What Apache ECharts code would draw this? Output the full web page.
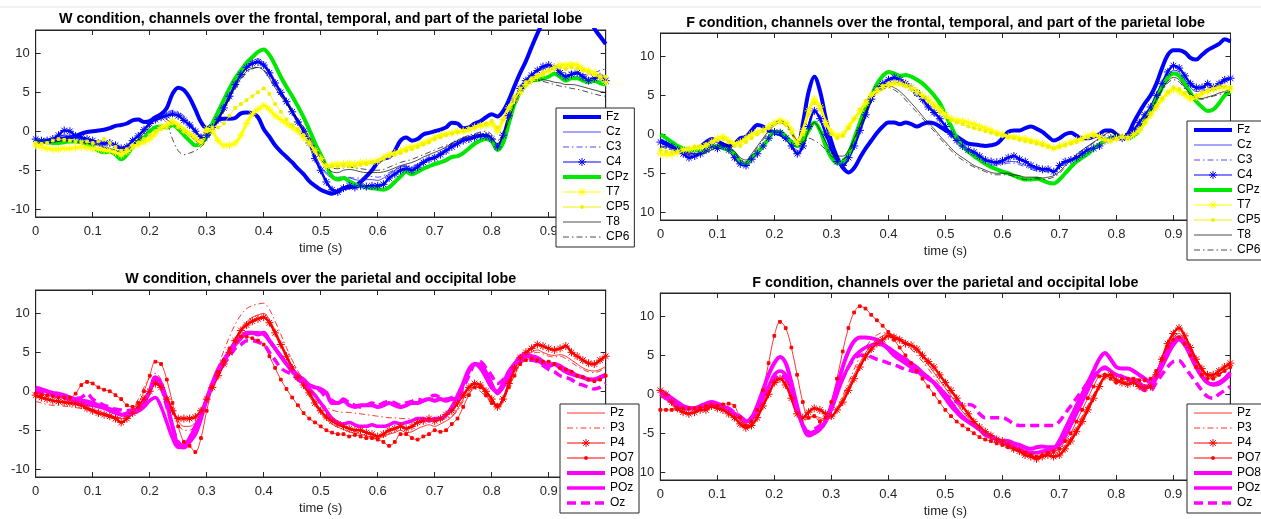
<!DOCTYPE html>
<html>
<head>
<meta charset="utf-8">
<title>EEG channels, W and F conditions</title>
<script src="https://cdn.jsdelivr.net/npm/echarts@6/dist/echarts.min.js"></script>
<style>
html, body { margin: 0; padding: 0; background: #fff; }
#chart { width: 1261px; height: 519px; }
</style>
</head>
<body>
<div id="chart"></div>
<script>
// sample times (s), one every 10 ms
const time = [];
for (let i = 0; i <= 100; i++) time.push(i / 100);

const frontalChannels = ['Fz', 'Cz', 'C3', 'C4', 'CPz', 'T7', 'CP5', 'T8', 'CP6'];
const occipitalChannels = ['Pz', 'P3', 'P4', 'PO7', 'PO8', 'POz', 'Oz'];

// ---- W condition, frontal / temporal ----
const wFz = [-1.3,-1.3,-1.2,-1.1,-1.0,-0.9,-0.8,-0.6,-0.3,-0.1,
  0.0,0.1,0.2,0.4,0.7,0.8,1.0,1.4,1.5,1.2,
  1.3,1.8,2.2,3.0,4.8,5.6,5.3,4.3,2.8,1.2,
  0.4,0.8,1.5,1.6,1.6,1.7,2.3,2.4,2.3,1.8,
  0.3,-0.7,-1.8,-2.6,-3.3,-4.0,-4.8,-5.5,-6.4,-7.0,
  -7.5,-7.8,-8.0,-7.7,-7.3,-7.2,-7.0,-6.5,-5.8,-5.0,
  -4.0,-3.5,-3.3,-2.5,-1.2,-0.8,-1.2,-1.0,-0.4,-0.2,
  0.0,0.2,0.5,1.1,1.0,0.4,0.5,1.0,1.3,1.8,
  2.2,1.9,2.6,4.0,5.8,7.5,9.0,10.8,12.5,14.0,
  15.0,16.0,16.5,17.0,17.0,16.5,16.0,15.0,13.2,12.2,
  11.2];
const wCz = [-1.2,-1.3,-1.4,-1.2,-0.8,-0.5,-0.5,-0.8,-1.0,-1.1,
  -1.3,-1.5,-1.5,-1.6,-1.8,-2.0,-1.8,-1.2,-0.5,0.3,
  1.0,1.6,2.0,2.3,2.5,2.3,1.8,1.0,0.2,-0.6,
  -0.3,0.6,1.8,3.2,4.7,6.2,7.5,8.5,9.0,9.3,
  8.8,7.8,6.5,5.2,4.0,2.8,1.5,0.2,-1.2,-3.0,
  -4.5,-5.5,-6.0,-6.2,-6.0,-6.0,-6.2,-6.3,-6.2,-6.2,
  -6.3,-6.0,-5.5,-5.0,-4.6,-4.5,-4.7,-4.3,-3.8,-3.5,
  -3.2,-2.8,-2.3,-1.8,-1.4,-1.0,-0.8,-0.6,-0.4,-0.4,
  -0.8,-1.8,-0.5,2.0,4.0,5.5,6.5,7.2,7.7,8.0,
  8.2,8.0,7.5,7.2,7.3,7.3,7.0,6.8,7.0,7.2,
  7.0];
const wC3 = [-1.3,-1.4,-1.3,-1.0,-0.7,-0.5,-0.6,-0.9,-1.1,-1.2,
  -1.4,-1.5,-1.4,-1.6,-1.9,-2.1,-1.9,-1.3,-0.6,0.2,
  1.0,1.5,2.0,2.4,2.7,2.5,2.0,1.2,0.3,-0.5,
  -0.4,0.5,1.6,3.0,4.5,6.0,7.3,8.3,8.8,9.0,
  8.6,7.6,6.3,5.0,3.8,2.6,1.4,0.1,-1.3,-3.0,
  -4.5,-5.3,-5.8,-5.9,-5.8,-5.9,-6.0,-6.0,-5.9,-5.8,
  -5.9,-5.7,-5.3,-4.9,-4.5,-4.4,-4.5,-4.2,-3.7,-3.4,
  -3.1,-2.7,-2.2,-1.7,-1.3,-0.9,-0.7,-0.5,-0.3,-0.3,
  -0.7,-1.6,-0.3,2.2,4.2,5.7,6.7,7.3,7.8,8.1,
  8.3,8.2,7.8,7.5,7.6,7.6,7.3,7.2,7.5,7.8,
  8.0];
const wC4 = [-1.0,-1.2,-1.2,-1.0,-0.5,0.1,0.0,-0.6,-0.8,-1.0,
  -1.2,-1.5,-1.6,-1.5,-1.8,-2.2,-2.0,-1.2,-0.6,0.2,
  1.0,1.5,1.8,2.0,2.2,2.0,1.4,0.8,0.0,-0.8,
  -0.5,0.5,1.5,3.0,4.5,6.0,7.3,8.2,8.7,8.9,
  8.5,7.5,6.2,5.0,3.8,2.5,1.2,0.0,-1.5,-3.5,
  -5.0,-6.5,-7.5,-7.8,-7.3,-7.0,-7.2,-7.0,-7.1,-7.0,
  -7.0,-6.8,-6.0,-5.5,-5.0,-4.8,-5.0,-4.6,-4.0,-3.6,
  -3.4,-3.0,-2.5,-2.0,-1.6,-1.2,-1.0,-0.8,-0.6,-0.6,
  -1.0,-2.0,-0.5,2.0,4.0,5.5,6.5,7.2,7.8,8.3,
  8.5,8.2,7.5,7.0,7.3,7.5,7.0,6.5,6.8,7.0,
  6.5];
const wCPz = [-1.2,-1.3,-1.4,-1.5,-1.5,-1.4,-1.3,-1.3,-1.4,-1.6,
  -2.0,-2.5,-2.7,-2.6,-3.0,-3.6,-3.0,-2.0,-1.3,-0.8,
  0.0,0.5,0.6,0.5,0.8,0.3,-0.5,-1.2,-1.8,-1.6,
  -0.5,1.0,2.5,4.0,5.5,6.8,7.8,8.8,9.5,10.2,
  10.5,9.8,8.5,7.0,5.7,4.5,3.2,1.8,0.2,-1.5,
  -3.0,-4.5,-5.8,-6.2,-6.0,-6.4,-6.8,-7.0,-7.2,-7.3,
  -7.4,-7.5,-7.2,-6.5,-5.8,-5.2,-5.5,-5.2,-4.8,-4.5,
  -4.2,-4.0,-3.7,-3.3,-3.2,-2.8,-2.2,-1.6,-1.2,-1.0,
  -1.3,-2.4,-1.5,1.0,3.5,5.0,6.0,6.5,6.6,6.8,
  7.0,7.4,7.0,6.5,6.8,6.8,6.5,6.3,6.5,6.2,
  6.0];
const wT7 = [-1.8,-2.0,-2.2,-2.3,-2.3,-2.2,-2.2,-2.1,-2.0,-2.1,
  -2.2,-2.3,-2.4,-2.5,-2.7,-3.0,-2.6,-2.0,-1.7,-1.4,
  -1.0,-0.3,0.5,0.8,1.3,0.8,0.2,-0.3,-0.8,-1.5,
  0.3,0.0,-1.2,-1.8,-1.8,-1.5,-0.5,1.0,2.2,2.8,
  3.3,2.8,2.0,1.5,1.0,0.5,0.0,-0.8,-1.5,-2.5,
  -3.5,-4.5,-4.3,-4.2,-4.2,-4.1,-4.2,-4.0,-4.0,-3.9,
  -3.8,-3.4,-3.0,-2.8,-2.5,-2.2,-2.0,-1.8,-1.5,-1.2,
  -0.8,-0.5,-0.3,-0.2,0.0,0.0,0.2,0.5,0.7,0.8,
  1.0,0.0,1.5,3.0,4.0,5.0,6.0,6.5,7.0,7.4,
  7.8,8.2,8.5,8.5,8.6,8.5,8.0,7.8,7.5,7.0,
  6.3];
const wCP5 = [-1.5,-1.6,-1.5,-1.2,-1.0,-1.1,-1.2,-1.3,-1.4,-1.3,
  -1.5,-1.3,-1.0,-1.5,-2.0,-2.5,-2.3,-1.8,-1.5,-1.0,
  -0.5,0.0,0.3,0.5,1.0,0.5,0.0,-0.5,-1.0,-1.2,
  0.0,0.5,0.5,1.0,2.0,3.0,3.5,4.0,4.5,5.0,
  5.5,4.8,3.5,2.5,1.5,0.8,0.3,-0.5,-1.5,-2.5,
  -3.5,-4.3,-4.5,-4.5,-4.4,-4.5,-4.5,-4.3,-4.2,-4.0,
  -3.8,-3.5,-3.2,-3.0,-2.8,-2.5,-2.3,-2.0,-1.7,-1.4,
  -1.0,-0.8,-0.5,-0.3,-0.1,0.1,0.3,0.5,0.8,1.0,
  1.3,0.5,1.5,3.0,4.5,5.5,6.3,6.8,7.2,7.5,
  7.8,8.0,8.2,8.0,8.2,8.0,7.8,7.5,7.2,7.0,
  7.0];
const wT8 = [-1.2,-1.3,-1.4,-1.4,-1.3,-1.2,-1.2,-1.3,-1.4,-1.5,
  -1.6,-1.8,-2.0,-2.2,-2.4,-2.6,-2.4,-1.8,-1.0,-0.2,
  0.8,1.5,1.9,1.5,1.0,0.5,0.0,-0.5,-1.2,-1.7,
  -1.0,0.3,1.5,2.8,4.2,5.6,6.8,7.7,8.1,8.2,
  7.8,6.8,5.6,4.5,3.5,2.5,1.5,0.5,-0.8,-2.2,
  -3.5,-4.5,-5.2,-5.3,-5.0,-4.9,-5.0,-5.2,-5.3,-5.3,
  -5.3,-5.2,-5.0,-4.7,-4.4,-4.2,-4.0,-3.7,-3.3,-3.0,
  -2.7,-2.4,-2.0,-1.6,-1.2,-0.9,-0.7,-0.5,-0.4,-0.4,
  -0.8,-1.6,-0.5,1.5,3.5,5.0,6.0,6.5,6.6,6.6,
  6.5,6.3,6.2,6.0,6.0,5.9,5.7,5.5,5.3,5.1,
  5.0];
const wCP6 = [-1.4,-1.5,-1.5,-1.4,-1.3,-1.2,-1.3,-1.4,-1.5,-1.6,
  -1.7,-1.9,-2.1,-2.3,-2.5,-2.7,-2.5,-1.9,-1.2,-0.4,
  0.5,1.2,1.6,1.0,-1.0,-2.5,-3.0,-2.8,-2.5,-2.0,
  -1.2,0.0,1.2,2.5,4.0,5.4,6.6,7.5,8.0,8.2,
  7.9,7.0,5.8,4.6,3.6,2.6,1.6,0.6,-0.7,-2.0,
  -3.2,-4.2,-4.7,-4.8,-4.7,-4.6,-4.7,-4.8,-4.9,-5.0,
  -5.0,-4.9,-4.6,-4.3,-4.0,-3.8,-3.6,-3.3,-3.0,-2.7,
  -2.4,-2.1,-1.8,-1.5,-1.1,-0.8,-0.5,-0.3,-0.1,0.0,
  -0.4,-1.2,-0.3,1.5,3.5,5.0,6.0,6.4,6.5,6.4,
  6.2,6.0,5.8,5.7,5.5,5.4,5.2,5.0,4.8,4.6,
  4.5];

// ---- F condition, frontal / temporal ----
const fFz = [-0.8,-1.2,-1.5,-1.8,-2.0,-2.1,-2.0,-1.6,-1.0,-0.6,
  -0.9,-1.3,-1.5,-1.2,-0.5,-0.3,0.5,1.2,1.0,0.5,
  0.2,0.0,-0.5,-1.0,-1.5,1.5,5.5,7.4,5.5,2.0,
  -1.0,-3.0,-4.3,-4.9,-4.3,-3.0,-1.8,-0.8,0.2,1.0,
  1.5,1.5,1.3,1.5,1.3,1.0,1.3,1.5,1.4,1.0,
  0.5,0.2,-0.3,-0.8,-1.2,-1.3,-1.4,-1.5,-1.4,-1.2,
  -0.5,0.3,0.5,0.5,0.8,1.0,0.7,0.3,-0.3,-0.8,
  -0.5,0.0,0.2,-0.2,-0.5,-0.5,-0.3,0.0,0.5,0.5,
  0.0,-0.5,0.0,1.5,2.8,4.0,5.0,6.5,8.5,10.2,
  10.8,10.8,10.5,9.8,9.6,10.2,10.8,11.2,11.6,12.2,
  11.9];
const fCz = [-0.8,-1.2,-1.5,-1.8,-2.2,-2.5,-2.5,-2.3,-1.8,-1.3,
  -1.5,-1.4,-1.8,-2.7,-3.5,-3.7,-3.0,-2.3,-1.3,-0.3,
  0.4,0.3,-0.4,-1.3,-2.2,-1.2,1.2,3.0,2.0,0.0,
  -1.8,-3.2,-3.8,-2.8,-1.2,0.8,2.8,4.6,5.8,6.5,
  7.0,7.2,7.0,6.6,6.0,5.3,4.6,3.8,3.0,2.0,
  1.0,0.0,-0.8,-1.5,-2.0,-2.5,-3.0,-3.4,-3.6,-3.8,
  -3.7,-3.5,-3.5,-3.7,-4.0,-4.3,-4.5,-4.6,-4.6,-4.7,
  -4.2,-3.7,-3.3,-3.0,-2.5,-2.0,-1.7,-1.3,-0.8,-0.5,
  -0.3,-0.5,-0.3,0.5,1.5,2.5,3.5,5.0,6.3,7.5,
  8.2,8.0,7.0,6.0,5.5,5.5,5.8,5.8,6.2,6.7,
  7.0];
const fC3 = [-0.9,-1.2,-1.6,-1.9,-2.3,-2.7,-2.6,-2.3,-1.9,-1.4,
  -1.6,-1.5,-1.9,-2.8,-3.6,-3.8,-3.0,-2.3,-1.4,-0.4,
  0.3,0.3,-0.3,-1.2,-2.0,-1.0,1.5,3.2,2.2,0.2,
  -1.6,-3.0,-3.7,-2.8,-1.2,0.8,2.8,4.5,5.6,6.3,
  6.8,7.0,6.8,6.3,5.6,4.8,4.0,3.2,2.4,1.5,
  0.5,-0.4,-1.2,-1.8,-2.4,-2.9,-3.4,-3.7,-3.9,-4.0,
  -3.9,-3.7,-3.7,-3.9,-4.2,-4.5,-4.7,-4.8,-4.8,-4.9,
  -4.3,-3.8,-3.4,-3.0,-2.5,-2.0,-1.6,-1.2,-0.7,-0.4,
  -0.3,-0.4,-0.2,0.5,1.5,2.5,3.6,5.0,6.3,7.5,
  8.0,7.8,7.0,6.2,5.8,5.8,6.0,6.2,6.6,7.0,
  7.3];
const fC4 = [-1.0,-1.3,-1.6,-2.0,-2.5,-3.0,-2.8,-2.5,-2.0,-1.5,
  -1.8,-1.5,-2.0,-3.0,-3.8,-4.0,-3.2,-2.5,-1.5,-0.5,
  0.3,0.2,-0.5,-1.5,-2.5,-1.5,1.0,3.0,2.0,0.0,
  -2.0,-3.5,-4.0,-3.0,-1.5,0.5,2.5,4.5,5.8,6.5,
  7.0,7.3,7.0,6.5,6.0,5.3,4.5,3.5,2.8,2.0,
  1.0,0.0,-0.8,-1.5,-2.0,-2.3,-2.8,-3.3,-3.5,-3.6,
  -3.4,-3.0,-2.8,-3.2,-3.5,-4.0,-4.3,-4.5,-4.5,-4.8,
  -4.0,-3.5,-3.3,-3.0,-2.5,-2.0,-1.8,-1.5,-0.8,-0.5,
  -0.3,-0.5,-0.2,0.5,1.5,2.5,3.5,5.0,6.5,8.0,
  8.8,8.5,7.5,6.5,6.0,6.0,6.5,6.0,6.5,7.0,
  7.2];
const fCPz = [0.0,-0.5,-1.0,-1.5,-1.8,-2.0,-2.0,-2.2,-2.0,-1.5,
  -1.5,-1.8,-2.0,-2.5,-3.5,-3.8,-3.0,-2.3,-1.5,-0.5,
  0.3,0.3,-0.3,-1.0,-1.5,-0.8,0.5,1.5,0.5,-1.5,
  -3.0,-3.7,-3.5,-2.5,-0.5,1.5,3.5,5.0,6.5,7.5,
  8.0,7.8,7.5,7.6,7.4,7.0,6.5,5.8,5.0,4.0,
  2.5,1.0,-0.5,-1.5,-2.2,-2.8,-3.3,-3.8,-4.2,-4.5,
  -4.8,-5.0,-5.3,-5.6,-5.8,-5.8,-5.7,-5.9,-6.2,-6.3,
  -5.8,-5.0,-4.2,-3.5,-3.0,-2.5,-1.8,-1.3,-0.8,-0.5,
  -0.3,-0.3,-0.5,-0.2,0.5,1.8,3.0,4.5,6.0,7.3,
  7.8,7.5,6.5,5.3,4.2,3.5,3.0,3.2,4.0,5.0,
  5.5];
const fT7 = [-2.5,-2.6,-2.6,-2.3,-2.0,-1.9,-1.8,-1.7,-1.5,-1.0,
  -0.5,-0.3,-0.8,-1.2,-1.0,-0.5,0.0,0.3,0.5,1.0,
  1.5,1.8,1.5,0.5,-1.0,0.5,3.0,4.5,3.5,1.5,
  0.3,-0.2,0.0,1.0,2.0,3.0,4.0,5.0,5.5,6.0,
  6.3,6.5,6.5,6.3,6.0,5.5,5.0,4.5,3.8,3.2,
  2.5,2.0,1.8,1.7,1.5,1.3,1.0,0.8,0.5,0.2,
  0.0,-0.3,-0.3,-0.5,-0.6,-0.8,-1.0,-1.2,-1.5,-1.8,
  -1.5,-1.3,-1.0,-0.8,-0.5,-0.2,0.0,-0.3,-0.8,-0.8,
  -0.5,-0.3,-0.5,0.0,0.5,1.5,2.5,3.5,4.5,5.3,
  5.8,5.5,5.0,4.5,4.8,5.2,5.5,5.8,6.0,6.0,
  5.8];
const fCP5 = [-2.0,-2.2,-2.3,-2.2,-2.0,-1.8,-1.6,-1.5,-1.3,-1.0,
  -0.8,-0.6,-1.0,-1.5,-1.5,-1.0,-0.5,0.0,0.4,0.8,
  1.3,1.5,1.2,0.2,-1.2,0.0,2.5,4.0,3.2,1.2,
  0.0,-0.5,-0.2,0.8,2.0,3.2,4.3,5.2,5.8,6.2,
  6.5,6.6,6.5,6.2,5.8,5.3,4.8,4.2,3.5,2.8,
  2.2,1.8,1.5,1.3,1.0,0.8,0.6,0.4,0.2,0.0,
  -0.2,-0.4,-0.5,-0.7,-0.9,-1.0,-1.2,-1.4,-1.6,-1.8,
  -1.6,-1.4,-1.2,-1.0,-0.7,-0.4,-0.2,-0.4,-0.7,-0.8,
  -0.6,-0.4,-0.4,0.0,0.6,1.5,2.6,3.6,4.6,5.4,
  6.0,5.8,5.3,4.8,5.0,5.3,5.6,5.8,6.0,6.1,
  6.0];
const fT8 = [-1.5,-1.6,-1.8,-2.0,-2.2,-2.4,-2.5,-2.5,-2.3,-2.0,
  -1.5,-1.2,-1.5,-2.2,-3.0,-3.3,-2.5,-1.5,-0.5,0.5,
  1.5,1.8,1.3,0.3,-0.8,-1.0,0.5,1.5,0.5,-1.0,
  -2.2,-2.8,-2.8,-2.0,-0.5,1.2,3.0,4.5,5.5,6.0,
  6.2,6.0,5.5,4.8,4.0,3.2,2.3,1.5,0.7,-0.2,
  -1.0,-1.8,-2.5,-3.0,-3.5,-4.0,-4.3,-4.6,-4.9,-5.0,
  -5.0,-5.0,-5.2,-5.3,-5.5,-5.5,-5.5,-5.6,-5.5,-5.3,
  -4.8,-4.0,-3.3,-2.6,-2.0,-1.5,-1.0,-0.5,0.0,0.3,
  0.0,-0.3,-0.2,0.3,1.0,2.0,3.0,4.5,5.8,6.8,
  7.3,7.0,6.0,5.2,4.7,4.6,4.8,5.0,5.3,5.5,
  5.8];
const fCP6 = [-1.6,-1.8,-2.0,-2.2,-2.4,-2.6,-2.7,-2.6,-2.4,-2.1,
  -1.6,-1.4,-1.7,-2.4,-3.2,-3.5,-2.7,-1.7,-0.7,0.3,
  1.2,1.5,1.0,0.0,-1.0,-1.3,-0.5,-0.8,-1.3,-2.0,
  -2.8,-3.2,-3.2,-2.4,-0.8,1.0,2.8,4.3,5.3,5.8,
  6.0,5.7,5.2,4.4,3.6,2.8,2.0,1.2,0.4,-0.5,
  -1.3,-2.1,-2.8,-3.3,-3.8,-4.2,-4.5,-4.8,-5.1,-5.2,
  -5.2,-5.2,-5.4,-5.6,-5.8,-5.8,-5.7,-5.8,-5.7,-5.5,
  -5.0,-4.2,-3.4,-2.7,-2.1,-1.6,-1.1,-0.6,-0.1,0.2,
  0.0,-0.3,-0.2,0.2,0.9,1.9,2.9,4.3,5.6,6.6,
  7.0,6.7,5.8,5.0,4.6,4.5,4.7,4.9,5.1,5.3,
  5.5];

// ---- W condition, parietal / occipital ----
const wPz = [-0.8,-0.9,-1.0,-1.2,-1.3,-1.4,-1.5,-1.6,-1.8,-2.0,
  -2.3,-2.5,-2.8,-3.0,-3.3,-3.5,-3.2,-2.6,-1.8,-0.8,
  0.3,1.5,1.0,-0.5,-2.3,-3.8,-4.5,-4.5,-4.0,-3.0,
  -1.3,0.5,2.2,3.8,5.3,6.8,8.0,8.9,9.5,9.8,
  10.0,9.2,7.8,6.2,4.7,3.2,1.8,0.6,-0.6,-1.8,
  -2.8,-3.6,-4.2,-4.6,-4.9,-5.2,-5.4,-5.5,-5.7,-5.9,
  -6.0,-5.8,-5.5,-5.3,-5.0,-5.3,-5.2,-4.8,-4.5,-4.3,
  -4.5,-4.2,-3.8,-3.3,-2.3,-1.0,0.0,0.6,0.5,-0.3,
  -1.2,-2.0,-1.2,0.7,2.5,3.8,4.6,5.0,5.3,5.0,
  4.7,4.6,4.7,4.5,4.0,3.5,3.0,2.7,2.6,2.8,
  3.2];
const wP3 = [-1.3,-1.5,-1.7,-1.8,-1.8,-1.9,-2.0,-2.1,-2.2,-2.4,
  -2.6,-2.8,-3.0,-3.2,-3.3,-3.4,-3.0,-2.2,-1.0,0.5,
  1.8,2.3,1.5,-0.5,-2.5,-4.2,-5.0,-5.0,-4.3,-3.0,
  -1.0,1.2,3.2,5.2,7.0,8.6,9.8,10.6,11.0,11.2,
  11.3,10.5,9.0,7.3,5.6,4.0,2.6,1.3,0.2,-0.8,
  -1.5,-2.0,-2.4,-2.6,-2.7,-2.7,-2.8,-2.9,-3.0,-3.1,
  -3.2,-3.3,-3.4,-3.4,-3.5,-3.5,-3.6,-3.6,-3.5,-3.5,
  -3.6,-3.7,-3.5,-3.2,-2.5,-1.3,-0.3,0.3,0.0,-0.8,
  -1.6,-2.2,-1.4,0.5,2.3,3.6,4.4,4.8,5.0,4.8,
  4.5,4.4,4.5,4.2,3.7,3.2,2.8,2.5,2.4,2.6,
  3.0];
const wP4 = [-0.5,-0.8,-1.0,-1.2,-1.3,-1.4,-1.5,-1.6,-1.8,-2.2,
  -2.5,-2.8,-3.0,-3.2,-3.5,-4.0,-3.5,-2.8,-2.0,-1.0,
  0.0,1.0,0.5,-1.0,-2.5,-3.5,-3.5,-3.5,-3.3,-2.5,
  -1.0,0.5,2.0,3.5,5.0,6.5,7.8,8.5,9.0,9.3,
  9.5,8.8,7.5,6.0,4.5,3.0,1.8,0.8,-0.2,-1.5,
  -2.5,-3.3,-3.8,-4.2,-4.5,-4.8,-5.0,-5.0,-5.3,-5.5,
  -5.8,-5.5,-5.0,-4.8,-4.5,-4.8,-4.5,-4.0,-3.8,-3.5,
  -3.8,-3.5,-3.0,-2.5,-1.5,-0.5,0.5,1.0,0.8,0.0,
  -1.0,-2.0,-1.0,1.0,3.0,4.3,5.0,5.5,6.0,5.8,
  5.5,5.3,5.5,5.8,5.0,4.5,4.0,3.6,3.5,4.0,
  4.5];
const wPO7 = [-0.3,-0.4,-0.5,-0.6,-0.8,-0.8,-0.8,-0.3,0.8,1.2,
  1.0,0.5,0.2,0.0,-0.5,-1.0,-1.8,-2.0,-1.5,0.0,
  2.0,3.8,3.5,1.5,-1.5,-4.5,-6.5,-7.0,-7.8,-6.0,
  -2.5,0.5,2.5,4.0,5.5,6.5,7.0,7.0,6.8,6.5,
  6.0,4.5,3.0,1.5,0.3,-0.8,-1.8,-2.8,-3.5,-4.0,
  -4.5,-5.0,-5.3,-5.5,-5.5,-5.8,-5.6,-5.8,-6.0,-6.0,
  -6.2,-6.5,-7.0,-6.5,-5.5,-5.5,-6.0,-6.2,-5.8,-5.5,
  -5.0,-5.2,-5.0,-4.2,-3.5,-2.0,-0.5,0.5,0.5,-0.5,
  -1.5,-1.8,-1.0,0.5,2.0,3.5,4.0,4.2,4.0,3.8,
  3.8,3.5,3.0,2.8,2.5,2.0,1.8,1.5,1.3,1.5,
  2.0];
const wPO8 = [0.3,0.2,0.0,-0.2,-0.3,-0.5,-0.8,-1.0,-1.2,-1.3,
  -1.5,-1.8,-2.0,-2.3,-2.5,-3.0,-3.0,-2.8,-2.5,-1.5,
  0.0,1.8,1.0,-1.5,-4.5,-7.0,-7.2,-6.5,-5.5,-3.5,
  -1.0,1.0,2.8,4.0,5.0,6.0,6.8,7.5,7.5,7.3,
  7.5,6.5,5.5,4.5,3.5,2.8,2.0,1.5,0.8,0.5,
  0.3,-0.2,-1.5,-1.5,-1.2,-1.8,-2.0,-1.8,-1.8,-1.8,
  -2.0,-1.8,-1.5,-1.8,-2.0,-1.8,-1.5,-1.5,-1.2,-1.0,
  -1.2,-1.0,-1.2,-1.0,-1.0,1.0,2.8,3.5,3.0,1.8,
  0.5,0.0,1.0,2.5,3.5,4.2,4.5,4.5,4.3,3.8,
  3.3,3.5,3.0,2.5,2.2,2.0,1.8,1.5,1.5,1.8,
  2.0];
const wPOz = [0.5,0.3,0.0,-0.3,-0.5,-0.8,-1.0,-1.3,-1.5,-1.7,
  -1.8,-2.0,-2.2,-2.5,-2.8,-3.0,-2.8,-2.5,-2.5,-2.0,
  -1.2,-0.8,-2.0,-4.0,-6.0,-7.2,-7.0,-6.0,-4.5,-3.0,
  -1.0,1.0,2.5,4.0,5.2,6.3,7.0,7.3,7.5,7.5,
  7.3,6.5,5.5,4.5,3.5,2.5,1.8,1.0,0.3,-0.5,
  -1.5,-2.5,-3.5,-4.0,-4.2,-4.0,-4.3,-4.5,-4.5,-4.3,
  -4.5,-4.5,-4.3,-4.0,-4.2,-4.0,-3.8,-3.5,-3.5,-3.8,
  -3.5,-3.5,-3.0,-2.0,-0.5,1.0,2.5,3.5,3.5,2.5,
  1.0,-0.3,0.5,2.0,3.5,4.5,4.8,4.5,4.0,3.5,
  3.2,3.5,3.3,2.8,2.5,2.0,1.8,1.5,1.5,1.8,
  2.2];
const wOz = [0.0,-0.2,-0.3,-0.5,-0.7,-0.8,-1.0,-0.9,-0.8,-0.3,
  -1.0,-1.4,-1.8,-2.0,-2.3,-2.4,-2.5,-2.4,-2.3,-1.5,
  0.0,1.5,0.5,-2.0,-4.5,-6.5,-7.0,-6.0,-4.5,-3.0,
  -1.0,1.0,2.5,3.5,4.5,5.5,6.0,6.5,6.5,6.3,
  6.0,5.0,4.0,3.0,2.5,2.2,1.5,1.0,0.8,0.5,
  0.0,-0.8,-1.2,-1.5,-1.0,-1.5,-1.8,-2.0,-1.8,-1.5,
  -1.8,-1.5,-1.3,-1.5,-1.8,-1.5,-1.3,-1.0,-1.2,-0.8,
  -0.5,-0.8,-1.0,-0.8,-0.5,0.5,2.0,3.5,3.8,3.0,
  2.0,1.0,1.5,2.5,3.5,3.8,4.0,4.0,3.8,3.3,
  2.8,2.5,2.0,1.8,1.5,1.0,0.8,0.5,0.3,0.5,
  1.0];

// ---- F condition, parietal / occipital ----
const fPz = [0.0,-0.5,-1.2,-1.8,-2.2,-2.4,-2.2,-2.0,-1.8,-1.5,
  -1.6,-1.8,-2.2,-2.8,-3.5,-4.0,-3.6,-2.6,-1.2,0.3,
  1.5,2.0,1.3,-0.3,-2.2,-3.0,-3.0,-2.8,-3.0,-3.2,
  -3.0,-2.0,-0.5,1.0,2.5,4.0,5.3,6.3,7.0,7.5,
  7.8,7.6,7.2,6.8,6.2,5.5,4.7,3.8,2.8,1.8,
  0.8,-0.2,-1.2,-2.2,-3.0,-3.8,-4.5,-5.0,-5.5,-5.9,
  -6.2,-6.6,-7.0,-7.3,-7.6,-7.8,-8.0,-7.8,-7.6,-7.6,
  -7.3,-6.6,-5.6,-4.4,-3.0,-1.6,-0.2,1.2,2.3,2.4,
  1.9,1.7,1.6,1.7,1.4,1.2,1.3,2.6,4.4,6.2,
  7.3,7.8,7.0,5.6,4.2,3.0,2.3,2.2,2.6,3.0,
  3.5];
const fP3 = [-0.3,-0.8,-1.4,-2.0,-2.3,-2.5,-2.3,-2.0,-1.7,-1.2,
  -1.4,-1.6,-2.0,-2.6,-3.3,-3.8,-3.4,-2.4,-1.0,0.3,
  1.2,1.6,1.0,-0.5,-2.3,-3.2,-3.2,-3.0,-3.2,-3.4,
  -3.0,-1.8,-0.2,1.5,3.2,4.8,6.0,7.0,7.6,7.9,
  7.8,7.5,7.0,6.5,5.8,5.0,4.2,3.3,2.3,1.3,
  0.3,-0.7,-1.7,-2.6,-3.4,-4.1,-4.7,-5.2,-5.6,-6.0,
  -6.3,-6.6,-6.9,-7.2,-7.4,-7.6,-7.7,-7.5,-7.4,-7.4,
  -7.0,-6.3,-5.3,-4.1,-2.8,-1.4,0.0,1.3,2.1,2.2,
  1.8,1.9,2.0,2.1,1.9,1.6,1.6,2.8,4.5,6.2,
  7.2,7.5,6.8,5.5,4.2,3.1,2.4,2.3,2.6,3.0,
  3.4];
const fP4 = [0.5,0.0,-1.0,-1.8,-2.3,-2.5,-2.3,-2.0,-2.0,-1.5,
  -1.8,-2.0,-2.5,-3.0,-3.8,-4.3,-4.0,-3.0,-1.5,0.0,
  1.5,2.0,1.2,-0.5,-2.5,-3.0,-2.3,-1.8,-2.0,-2.5,
  -2.8,-2.0,-1.0,0.5,2.0,3.5,4.8,5.8,6.5,7.0,
  7.5,7.3,7.0,6.5,6.3,5.8,5.0,4.2,3.5,2.5,
  1.5,0.5,-0.5,-1.5,-2.5,-3.5,-4.2,-4.8,-5.3,-5.8,
  -6.0,-6.5,-7.0,-7.3,-7.8,-8.0,-8.3,-8.0,-7.8,-8.0,
  -7.8,-7.0,-6.0,-4.8,-3.5,-2.0,-0.5,1.0,2.3,2.5,
  1.8,1.5,1.3,1.5,1.0,0.8,1.0,2.5,4.5,6.5,
  7.8,8.5,7.5,6.0,4.5,3.3,2.5,2.5,3.0,3.5,
  4.0];
const fPO7 = [-2.0,-2.0,-2.0,-1.9,-1.8,-1.8,-1.8,-1.7,-1.5,-1.5,
  -1.5,-1.3,-1.2,-1.5,-3.0,-4.0,-3.5,-2.0,0.5,4.0,
  7.5,9.3,8.5,6.0,2.5,-1.0,-3.0,-2.8,-3.5,-3.0,
  -1.0,2.0,5.5,8.5,10.5,11.3,11.0,10.2,9.5,8.8,
  8.0,7.0,6.0,5.0,4.0,3.0,2.0,1.0,0.0,-1.0,
  -2.0,-2.8,-3.5,-4.0,-4.5,-5.0,-5.5,-5.8,-6.0,-6.3,
  -6.5,-6.8,-7.0,-7.2,-7.5,-7.8,-8.0,-7.8,-7.5,-7.3,
  -7.0,-6.0,-5.0,-3.5,-2.0,-0.5,1.0,2.3,2.5,2.0,
  1.5,2.0,2.0,2.0,1.8,1.8,2.0,3.0,4.5,6.0,
  7.0,7.3,6.5,5.0,3.5,2.5,2.0,2.0,2.5,3.0,
  3.5];
const fPO8 = [0.5,0.0,-0.5,-1.0,-1.5,-1.8,-1.8,-1.5,-1.2,-1.0,
  -1.2,-1.5,-2.0,-2.5,-3.0,-3.5,-3.0,-1.5,0.5,2.5,
  4.0,4.8,4.0,1.5,-1.5,-4.0,-5.3,-5.0,-4.5,-3.5,
  -1.5,1.0,3.5,5.5,6.8,7.3,7.3,7.2,7.0,6.5,
  5.8,5.0,4.5,4.0,3.5,3.0,2.5,2.0,1.5,0.5,
  -0.5,-1.5,-2.3,-3.0,-3.5,-4.0,-4.5,-5.2,-5.5,-5.8,
  -6.0,-6.0,-6.3,-6.5,-6.8,-7.0,-6.8,-6.7,-6.8,-6.8,
  -6.0,-4.5,-3.0,-1.5,0.0,1.5,3.0,4.5,5.3,4.5,
  3.5,3.3,3.3,3.0,2.5,2.0,1.5,2.5,4.0,5.5,
  6.8,7.3,6.5,5.0,3.5,2.3,1.5,1.3,1.5,2.0,
  2.8];
const fPOz = [0.0,-0.5,-1.0,-1.4,-1.8,-1.9,-1.8,-1.6,-1.5,-1.4,
  -1.3,-1.6,-2.0,-2.5,-3.0,-3.5,-3.2,-2.0,-0.5,1.0,
  2.5,3.0,2.5,0.5,-2.0,-4.0,-5.0,-4.8,-4.3,-3.5,
  -2.0,0.0,2.0,3.5,4.8,5.5,6.0,6.3,6.5,6.3,
  6.0,5.5,5.0,4.5,4.0,3.5,2.8,2.2,1.5,0.8,
  0.0,-1.0,-2.0,-2.8,-3.5,-4.0,-4.5,-5.0,-5.3,-5.8,
  -6.2,-6.5,-6.8,-7.0,-7.3,-7.5,-7.5,-7.3,-7.2,-7.0,
  -6.5,-5.5,-4.0,-2.5,-1.0,0.5,2.0,3.0,3.5,3.0,
  2.5,2.3,2.0,1.8,1.5,1.0,1.0,2.0,3.5,5.0,
  6.3,7.0,6.3,5.0,3.5,2.3,1.5,1.2,1.3,1.8,
  2.5];
const fOz = [0.0,-0.4,-0.8,-1.2,-1.5,-1.7,-1.8,-1.7,-1.5,-1.4,
  -1.3,-1.5,-1.8,-2.3,-2.8,-3.3,-3.0,-2.0,-0.5,1.0,
  2.0,2.5,2.0,0.5,-1.8,-3.8,-4.8,-4.5,-4.0,-3.0,
  -1.5,0.5,2.0,3.5,4.5,5.0,5.0,4.8,4.5,4.3,
  4.0,3.8,3.5,3.2,3.0,2.8,2.5,2.0,1.5,0.8,
  0.0,-0.5,-1.0,-1.3,-1.3,-1.5,-2.5,-3.0,-3.0,-3.0,
  -3.0,-3.3,-3.8,-4.0,-4.0,-4.0,-4.0,-4.0,-4.0,-4.0,
  -3.5,-2.5,-1.5,-0.5,0.5,1.5,2.3,3.0,3.3,3.0,
  2.5,2.3,2.0,1.5,1.0,0.5,0.5,1.5,2.5,3.5,
  4.2,4.3,3.5,2.5,1.5,0.5,-0.3,-0.5,0.0,0.5,
  1.0];

// line looks, MATLAB-like
const STAR = 'path://M5,0L5,10M0,5L10,5M1.5,1.5L8.5,8.5M8.5,1.5L1.5,8.5';
const DOT = 'path://M0,0M10,10M3.5,3.5L6.5,3.5L6.5,6.5L3.5,6.5Z';
const dashDot = [6, 3, 1.5, 3];
const looks = {
  Fz:  { color: '#0000ff', width: 4 },
  Cz:  { color: '#1f1fff', width: 0.8 },
  C3:  { color: '#1f1fff', width: 0.8, type: dashDot },
  C4:  { color: '#0000ff', width: 2.5, mark: 'star' },
  CPz: { color: '#00e800', width: 4 },
  T7:  { color: '#ffff00', width: 3, mark: 'star' },
  CP5: { color: '#f0f000', width: 0.8, mark: 'dot' },
  T8:  { color: '#000000', width: 0.7 },
  CP6: { color: '#000000', width: 0.7, type: dashDot },
  Pz:  { color: '#ff0000', width: 0.8 },
  P3:  { color: '#ff0000', width: 0.8, type: dashDot },
  P4:  { color: '#ff0000', width: 2.5, mark: 'star' },
  PO7: { color: '#ff0000', width: 0.8, mark: 'dot' },
  PO8: { color: '#ff00ff', width: 4 },
  POz: { color: '#ff00ff', width: 3.5 },
  Oz:  { color: '#ff00ff', width: 3.5, type: [9, 5] }
};

const panels = [
  { title: 'W condition, channels over the frontal, temporal, and part of the parietal lobe',
    left: 35.7, top: 30, titleTop: 12, legendLeft: 556, legendTop: 108, cutMinus: false,
    names: frontalChannels, values: [wFz, wCz, wC3, wC4, wCPz, wT7, wCP5, wT8, wCP6] },
  { title: 'F condition, channels over the frontal, temporal, and part of the parietal lobe',
    left: 660.5, top: 33, titleTop: 16, legendLeft: 1187, legendTop: 121, cutMinus: true,
    names: frontalChannels, values: [fFz, fCz, fC3, fC4, fCPz, fT7, fCP5, fT8, fCP6] },
  { title: 'W condition, channels over the parietal and occipital lobe',
    left: 35.7, top: 290, titleTop: 272, legendLeft: 560, legendTop: 404, cutMinus: false,
    names: occipitalChannels, values: [wPz, wP3, wP4, wPO7, wPO8, wPOz, wOz] },
  { title: 'F condition, channels over the parietal and occipital lobe',
    left: 660.3, top: 293, titleTop: 276, legendLeft: 1187, legendTop: 404, cutMinus: true,
    names: occipitalChannels, values: [fPz, fP3, fP4, fPO7, fPO8, fPOz, fOz] }
];

const fontFamily = "'Liberation Sans', Arial, Helvetica, sans-serif";
const axisColor = '#262626';
const plotW = 570, plotH = 187;

const grid = [], xAxis = [], yAxis = [], title = [], legend = [], series = [];

panels.forEach((p, g) => {
  grid.push({ left: p.left, top: p.top, width: plotW, height: plotH, show: true,
    borderColor: axisColor, borderWidth: 1, backgroundColor: '#fff', outerBoundsMode: 'none' });

  title.push({ text: p.title, left: p.left + plotW / 2, top: p.titleTop, textAlign: 'center', padding: 0,
    textStyle: { fontFamily, fontSize: 14.3, fontWeight: 'bold', color: '#000' } });

  const tick = { inside: true, length: 5, lineStyle: { color: axisColor, width: 1 } };
  const line = { show: true, onZero: false, lineStyle: { color: axisColor, width: 1 } };

  xAxis.push({ gridIndex: g, type: 'value', position: 'bottom', min: 0, max: 1, interval: 0.1,
    axisLine: line, axisTick: tick, splitLine: { show: false },
    axisLabel: { color: axisColor, fontFamily, fontSize: 13, margin: 8,
      formatter: v => (v >= 0.999 ? '' : String(+v.toFixed(1))) },
    name: 'time (s)', nameLocation: 'middle', nameGap: 25,
    nameTextStyle: { color: axisColor, fontFamily, fontSize: 13 } });
  xAxis.push({ gridIndex: g, type: 'value', position: 'top', min: 0, max: 1, interval: 0.1,
    axisLine: line, axisTick: tick, axisLabel: { show: false }, splitLine: { show: false } });

  const yLabel = v => {
    if (Math.abs(v % 5) > 1e-9) return '';
    if (p.cutMinus && v === -10) return '10';
    return String(v);
  };
  yAxis.push({ gridIndex: g, type: 'value', position: 'left', min: -11, max: 13,
    axisLine: line, axisTick: tick, splitLine: { show: false },
    axisLabel: { color: axisColor, fontFamily, fontSize: 13, margin: 6, formatter: yLabel } });
  yAxis.push({ gridIndex: g, type: 'value', position: 'right', min: -11, max: 13,
    axisLine: line, axisTick: tick, axisLabel: { show: false }, splitLine: { show: false } });

  legend.push({
    orient: 'vertical', left: p.legendLeft, top: p.legendTop,
    data: p.names.map(n => (looks[n].mark
      ? { name: n, lineStyle: { width: 1 } }
      : { name: n, itemStyle: { opacity: 0 } })),
    itemWidth: 38, itemHeight: 10, itemGap: 3, padding: [3, 5, 4, 5],
    borderColor: axisColor, borderWidth: 1, backgroundColor: '#fff', selectedMode: false,
    textStyle: { fontFamily, fontSize: 12, color: '#000', lineHeight: 12 },
    lineStyle: { width: 'inherit' }, itemStyle: { borderWidth: 'inherit' }
  });

  p.names.forEach((n, k) => {
    const lk = looks[n];
    const vals = p.values[k];
    series.push({
      type: 'line', name: n, xAxisIndex: 2 * g, yAxisIndex: 2 * g,
      data: time.map((t, i) => [t, vals[i]]),
      smooth: 0.35, clip: true, silent: true,
      symbol: lk.mark === 'star' ? STAR : lk.mark === 'dot' ? DOT : 'none',
      showSymbol: !!lk.mark,
      symbolSize: lk.mark === 'star' ? 8 : 9,
      lineStyle: { color: lk.color, width: lk.width, type: lk.type || 'solid' },
      itemStyle: { color: lk.color, borderColor: lk.color, borderWidth: 1 }
    });
  });
});

const chart = echarts.init(document.getElementById('chart'), null, { renderer: 'canvas' });
chart.setOption({
  animation: false,
  backgroundColor: '#fff',
  graphic: [{ type: 'line', silent: true, shape: { x1: 0, y1: 7, x2: 1261, y2: 7 },
    style: { stroke: '#e4e4e4', lineWidth: 1 } }],
  title, grid, xAxis, yAxis, legend, series
});
</script>
</body>
</html>
